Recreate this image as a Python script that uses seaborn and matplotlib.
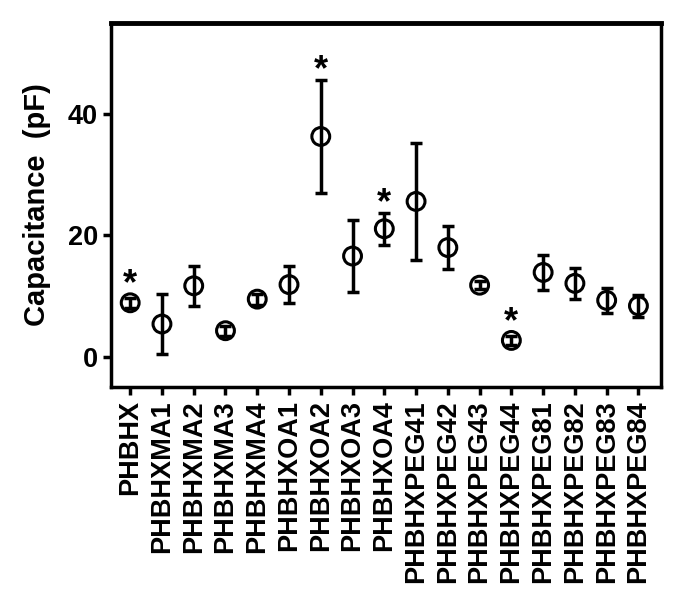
import numpy as np
import pandas as pd
import matplotlib
matplotlib.use("Agg")
import matplotlib.pyplot as plt
import seaborn as sns

# datos
samples = ["PHBHX", "PHBHXMA1", "PHBHXMA2", "PHBHXMA3", "PHBHXMA4",
           "PHBHXOA1", "PHBHXOA2", "PHBHXOA3", "PHBHXOA4",
           "PHBHXPEG41", "PHBHXPEG42", "PHBHXPEG43", "PHBHXPEG44",
           "PHBHXPEG81", "PHBHXPEG82", "PHBHXPEG83", "PHBHXPEG84"]
capacitance = [8.9, 5.4, 11.7, 4.3, 9.5, 11.9, 36.3, 16.6, 21.1,
               25.6, 18.0, 11.8, 2.7, 13.9, 12.1, 9.3, 8.4]
error = [0.8, 4.9, 3.3, 0.8, 0.9, 3.1, 9.3, 6.0, 2.6,
         9.7, 3.6, 0.7, 0.7, 2.9, 2.5, 2.0, 1.8]
significant = ["PHBHX", "PHBHXOA2", "PHBHXOA4", "PHBHXPEG44"]
y_ticks = [0, 20, 40]

df = pd.DataFrame({"sample": samples, "cap": capacitance, "err": error})

sns.set_style("ticks", {"axes.edgecolor": "black", "text.color": "black",
                        "xtick.color": "black", "ytick.color": "black",
                        "axes.labelcolor": "black"})
plt.rcParams["font.family"] = ["Liberation Sans", "DejaVu Sans"]
plt.rcParams["font.weight"] = "bold"

fig = plt.figure(figsize=(6.86, 6.04), dpi=100)
ax = fig.add_axes([0.162, 0.359, 0.802, 0.603])

x = np.arange(len(samples))
ax.errorbar(x, df["cap"], yerr=df["err"], fmt="none", ecolor="black",
            elinewidth=2.5, capsize=4, capthick=2.5, zorder=2)
sns.scatterplot(data=df, x="sample", y="cap", ax=ax, marker="o", s=165,
                facecolors="none", edgecolor="black", linewidth=2.2, zorder=3)

# asteriscos de significancia
for i, row in df.iterrows():
    if row["sample"] in significant:
        top = max(row["cap"] + row["err"], row["cap"] + 1.4)
        ax.annotate("*", (i, top), xytext=(0, 0), textcoords="offset points",
                    ha="center", va="baseline", fontsize=26, fontweight="bold")

ax.set_xlim(-0.6, 16.72)
ax.set_ylim(-5, 55)
ax.set_yticks(y_ticks)
ax.set_xticks(x)
ax.set_xticklabels(samples, rotation=90, fontsize=19.5, fontweight="bold")
ax.tick_params(axis="y", labelsize=19.5, width=2.5, length=6)
ax.tick_params(axis="x", width=2.5, length=6)
for lab in ax.get_yticklabels():
    lab.set_fontweight("bold")
ax.set_xlabel("")
ax.set_ylabel("Capacitance  (pF)", fontsize=21, fontweight="bold", labelpad=12)

for side in ["left", "right", "top", "bottom"]:
    ax.spines[side].set_visible(True)
    ax.spines[side].set_linewidth(2.5)
ax.spines["top"].set_linewidth(3.5)

fig.savefig("out.png", dpi=100)
